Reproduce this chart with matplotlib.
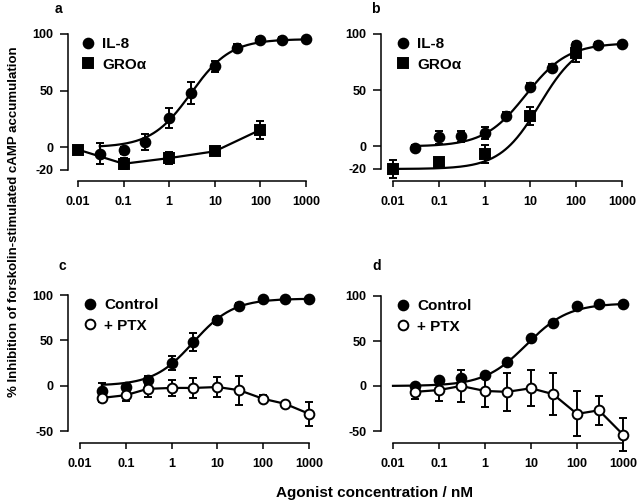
import numpy as np
import matplotlib
matplotlib.use("Agg")
import matplotlib.pyplot as plt
from matplotlib.lines import Line2D

plt.rcParams['font.family'] = ['Liberation Sans', 'DejaVu Sans']
plt.rcParams['font.weight'] = 'bold'

# ---- data ----
conc = [0.03, 0.1, 0.3, 1, 3, 10, 30, 100, 300, 1000]
gro_conc = [0.01, 0.1, 1, 10, 100]

# panel a
a_il8 = [-5.5, -2.5, 5, 26, 48, 71.5, 88, 95, 95, 95.5]
a_il8_err = [9, 3, 7, 9, 10, 5, 3, 2, 2, 2]
a_gro = [-2, -14.5, -9.5, -3.5, 15.5]
a_gro_err = [2, 5, 5, 2, 8]

# panel b
b_il8 = [-1, 8, 9, 12, 27.5, 53, 70, 90.5, 90.5, 91]
b_il8_err = [2, 6, 5, 5, 3, 3, 3, 2, 2, 2]
b_gro = [-20, -13.5, -7, 27, 83]
b_gro_err = [8, 3, 8, 8, 8]

# panel c
c_ctrl = [-6, -1, 6, 25, 48, 72, 88, 95.5, 95.5, 96]
c_ctrl_err = [9, 3, 5, 8, 10, 4, 3, 2, 2, 2]
c_ptx = [-13.5, -10.5, -3.5, -2.5, -2.5, -1.5, -5, -14.5, -20, -31]
c_ptx_err = [5, 6, 9, 9, 11, 11, 16, 4, 2, 13]

# panel d
d_ctrl = [0, 6.5, 9, 12, 27, 53, 70.5, 89, 91, 91]
d_ctrl_err = [2, 2, 2, 2, 2, 2, 2, 2, 2, 2]
d_ptx = [-6.5, -4.5, 0, -5.5, -6.5, -2.5, -9, -31, -27, -54]
d_ptx_err = [8, 12, 18, 18, 21, 20, 23, 25, 16, 18]

# sigmoid fit parameters (bottom, top, EC50, hill)
fit_a_il8 = (0, 95.5, 3.0, 1.0)
fit_b_il8 = (0, 92, 8.0, 0.95)
fit_b_gro = (-20, 95, 16.0, 1.0)
fit_c_ctrl = (0, 96, 3.0, 1.0)
fit_d_ctrl = (0, 92, 8.0, 0.95)


def hill(x, p):
    bottom, top, ec50, n = p
    return bottom + (top - bottom) / (1 + (ec50 / x) ** n)


W, H = 640, 504
fig = plt.figure(figsize=(6.4, 5.04), dpi=100)


def make_ax(x0, x1, y0, y1, ylim, yticks, offl, offb):
    ax = fig.add_axes([x0 / W, 1 - y1 / H, (x1 - x0) / W, (y1 - y0) / H])
    ax.set_xscale('log')
    ax.set_xlim(0.01, 1000)
    ax.set_ylim(*ylim)
    ax.set_xticks([0.01, 0.1, 1, 10, 100, 1000])
    ax.set_xticklabels(['0.01', '0.1', '1', '10', '100', '1000'])
    ax.minorticks_off()
    ax.set_yticks(yticks)
    ax.set_yticklabels([str(t) for t in yticks])
    for s in ['top', 'right']:
        ax.spines[s].set_visible(False)
    ax.spines['left'].set_position(('outward', offl * 0.72))
    ax.spines['bottom'].set_position(('outward', offb * 0.72))
    for s in ['left', 'bottom']:
        ax.spines[s].set_linewidth(1.1)
    ax.tick_params(axis='x', width=1.1, length=4.5, labelsize=9, pad=6)
    ax.tick_params(axis='y', width=1.1, length=5.5, labelsize=9, pad=5)
    ax.patch.set_alpha(0)
    return ax


def series(ax, x, y, err, marker, filled, fit=None, fit_from=None):
    face = 'black' if filled else 'white'
    ms = 7 if marker == 'o' else 7.5
    if fit is not None:
        xs = np.logspace(np.log10(fit_from), np.log10(max(x)), 200)
        ax.plot(xs, hill(xs, fit), color='black', lw=1.6, clip_on=False, zorder=2)
        ls = 'none'
    else:
        ls = '-'
    ax.errorbar(x, y, yerr=err, fmt=marker, ls=ls, color='black', mfc=face,
                mec='black', mew=1.4, ms=ms, lw=1.6, elinewidth=1.4,
                capsize=3, capthick=1.4, clip_on=False, zorder=3)


def legend(ax, labels, markers, fills):
    handles = [Line2D([], [], marker=m, ls='none', color='black',
                      mfc='black' if f else 'white', mec='black', mew=1.4, ms=7)
               for m, f in zip(markers, fills)]
    ax.legend(handles, labels, loc='upper left', bbox_to_anchor=(-0.035, 1.08),
              frameon=False, handlelength=0.6, handletextpad=0.6,
              labelspacing=0.45, prop={'size': 11, 'weight': 'bold'})


# panel a
ax_a = make_ax(78, 306, 34, 170, (-20, 100), [-20, 0, 50, 100], 10, 11)
series(ax_a, conc, a_il8, a_il8_err, 'o', True, fit=fit_a_il8, fit_from=0.03)
series(ax_a, gro_conc, a_gro, a_gro_err, 's', True)
legend(ax_a, ['IL-8', 'GRO\u03b1'], ['o', 's'], [True, True])

# panel b
ax_b = make_ax(393, 622, 34, 169, (-20, 100), [-20, 0, 50, 100], 12, 12)
series(ax_b, conc, b_il8, b_il8_err, 'o', True, fit=fit_b_il8, fit_from=0.03)
series(ax_b, gro_conc, b_gro, b_gro_err, 's', True, fit=fit_b_gro, fit_from=0.01)
legend(ax_b, ['IL-8', 'GRO\u03b1'], ['o', 's'], [True, True])

# panel c
ax_c = make_ax(80, 309, 295, 431, (-50, 100), [-50, 0, 50, 100], 12, 12)
series(ax_c, conc, c_ctrl, c_ctrl_err, 'o', True, fit=fit_c_ctrl, fit_from=0.03)
series(ax_c, conc, c_ptx, c_ptx_err, 'o', False)
legend(ax_c, ['Control', '+ PTX'], ['o', 'o'], [True, False])

# panel d
ax_d = make_ax(393, 623, 296, 431, (-50, 100), [-50, 0, 50, 100], 12, 12)
series(ax_d, conc, d_ctrl, d_ctrl_err, 'o', True, fit=fit_d_ctrl, fit_from=0.01)
series(ax_d, conc, d_ptx, d_ptx_err, 'o', False)
legend(ax_d, ['Control', '+ PTX'], ['o', 'o'], [True, False])

# panel letters
for lab, (px, py) in zip('abcd', [(58, 9), (375, 9), (62, 266), (377, 266)]):
    fig.text(px / W, 1 - py / H, lab, fontsize=10, fontweight='bold',
             ha='center', va='center')

fig.text(14 / W, 1 - 222 / H, '% Inhibition of forskolin-stimulated cAMP accumulation',
         rotation=90, fontsize=9.5, fontweight='bold', ha='center', va='center')
fig.text(375 / W, 1 - 493 / H, 'Agonist concentration / nM',
         fontsize=11, fontweight='bold', ha='center', va='center')

fig.savefig('out.png', dpi=100)
